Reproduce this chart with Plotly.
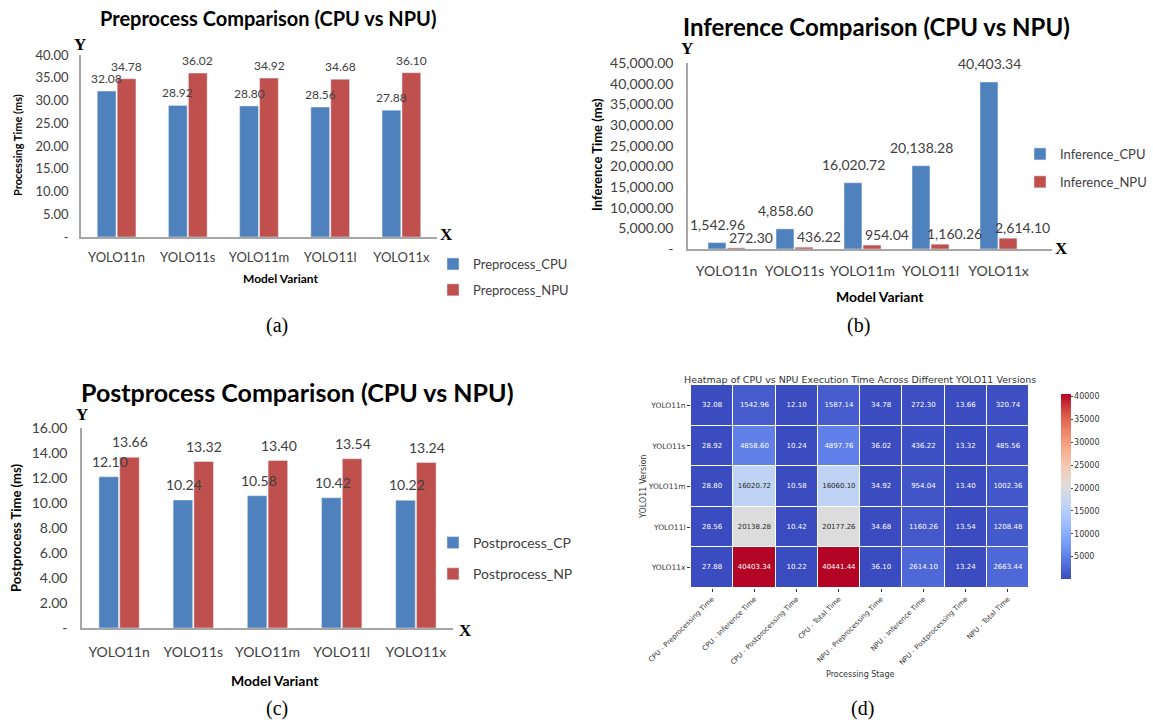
import plotly.graph_objects as go

W, H = 1153, 722

# ---------------- data ----------------
models = ["YOLO11n", "YOLO11s", "YOLO11m", "YOLO11l", "YOLO11x"]
pre_cpu = [32.08, 28.92, 28.80, 28.56, 27.88]
pre_npu = [34.78, 36.02, 34.92, 34.68, 36.10]
inf_cpu = [1542.96, 4858.60, 16020.72, 20138.28, 40403.34]
inf_npu = [272.30, 436.22, 954.04, 1160.26, 2614.10]
post_cpu = [12.10, 10.24, 10.58, 10.42, 10.22]
post_npu = [13.66, 13.32, 13.40, 13.54, 13.24]
cpu_total = [1587.14, 4897.76, 16060.10, 20177.26, 40441.44]
npu_total = [320.74, 485.56, 1002.36, 1208.48, 2663.44]
stages = ["CPU - Preprocessing Time", "CPU - Inference Time", "CPU - Postprocessing Time",
          "CPU - Total Time", "NPU - Preprocessing Time", "NPU - Inference Time",
          "NPU - Postprocessing Time", "NPU - Total Time"]

pre_ticks = [0, 5, 10, 15, 20, 25, 30, 35, 40]
inf_ticks = [0, 5000, 10000, 15000, 20000, 25000, 30000, 35000, 40000, 45000]
post_ticks = [0, 2, 4, 6, 8, 10, 12, 14, 16]
cbar_ticks = [5000, 10000, 15000, 20000, 25000, 30000, 35000, 40000]

heat_z = [[pre_cpu[i], inf_cpu[i], post_cpu[i], cpu_total[i],
           pre_npu[i], inf_npu[i], post_npu[i], npu_total[i]] for i in range(len(models))]

# ---------------- helpers ----------------
def X(px):
    return px / W

def Y(py):
    return 1 - py / H

CPU_C = "#4f81bd"
NPU_C = "#c0504d"
FONT = "Lato"
TXT = "#404040"
AX = "#a6a6a6"

coolwarm = [
    [0.0, "#3b4cc0"], [0.1, "#5977e3"], [0.2, "#7b9ff9"], [0.3, "#9ebeff"],
    [0.4, "#c0d4f5"], [0.5, "#dddcdc"], [0.6, "#f2cbb7"], [0.7, "#f7ac8e"],
    [0.8, "#ee8468"], [0.9, "#d65244"], [1.0, "#b40426"],
]

def hex2rgb(h):
    return [int(h[i:i + 2], 16) for i in (1, 3, 5)]

def scale_color(t):
    for (t0, c0), (t1, c1) in zip(coolwarm[:-1], coolwarm[1:]):
        if t0 <= t <= t1:
            f = (t - t0) / (t1 - t0)
            a, b = hex2rgb(c0), hex2rgb(c1)
            return [a[k] + f * (b[k] - a[k]) for k in range(3)]
    return hex2rgb(coolwarm[-1][1])

def luminance(rgb):
    out = []
    for c in rgb:
        c = c / 255
        out.append(c / 12.92 if c <= 0.03928 else ((c + 0.055) / 1.055) ** 2.4)
    return 0.2126 * out[0] + 0.7152 * out[1] + 0.0722 * out[2]

fig = go.Figure()

def bar(x, y, name, color, xa, ya, leg, grp):
    fig.add_trace(go.Bar(x=x, y=y, name=name, marker_color=color, xaxis=xa, yaxis=ya,
                         legend=leg, legendgroup=grp, hoverinfo="x+y"))

bar(models, pre_cpu, "Preprocess_CPU", CPU_C, "x", "y", "legend", "a1")
bar(models, pre_npu, "Preprocess_NPU", NPU_C, "x", "y", "legend", "a2")
bar(models, inf_cpu, "Inference_CPU", CPU_C, "x2", "y2", "legend2", "b1")
bar(models, inf_npu, "Inference_NPU", NPU_C, "x2", "y2", "legend2", "b2")
bar(models, post_cpu, "Postprocess_CP", CPU_C, "x3", "y3", "legend3", "c1")
bar(models, post_npu, "Postprocess_NP", NPU_C, "x3", "y3", "legend3", "c2")

# (d) heatmap
zmin = min(min(r) for r in heat_z)
zmax = max(max(r) for r in heat_z)
fig.add_trace(go.Heatmap(
    z=heat_z, x=stages, y=models, colorscale=coolwarm, zmin=zmin, zmax=zmax,
    xgap=1, ygap=1, xaxis="x4", yaxis="y4", showlegend=False,
    colorbar=dict(x=X(1051), xanchor="left", y=Y(487), yanchor="middle",
                  len=(590 - 385) / H, thickness=10, outlinewidth=0,
                  tickvals=cbar_ticks, tickformat="d", ticks="outside", ticklen=2,
                  tickfont=dict(size=8, family="DejaVu Sans", color="#333")),
))
# cell annotations (seaborn-style contrast colour)
tx, ty, tt, tc = [], [], [], []
for i, m in enumerate(models):
    for j, s in enumerate(stages):
        v = heat_z[i][j]
        tx.append(s)
        ty.append(m)
        tt.append(f"{v:.2f}")
        lum = luminance(scale_color((v - zmin) / (zmax - zmin)))
        tc.append("#262626" if lum > 0.408 else "white")
fig.add_trace(go.Scatter(x=tx, y=ty, text=tt, mode="text", xaxis="x4", yaxis="y4",
                         textfont=dict(size=7, family="DejaVu Sans", color=tc),
                         showlegend=False, hoverinfo="skip"))

def bar_x(dom, anchor, fs, standoff):
    return dict(domain=dom, anchor=anchor, showline=True, linecolor=AX, linewidth=1.5,
                showgrid=False, ticks="", tickfont=dict(size=fs, color=TXT, family=FONT),
                ticklabelstandoff=standoff, fixedrange=True, automargin=False)

def bar_y(dom, anchor, rng, vals, texts, fs, standoff):
    return dict(domain=dom, anchor=anchor, range=rng, showline=True, linecolor=AX, linewidth=1.5,
                showgrid=False, zeroline=False, ticks="", tickvals=vals, ticktext=texts,
                tickfont=dict(size=fs, color=TXT, family=FONT), ticklabelstandoff=standoff,
                fixedrange=True, automargin=False)

pre_tt = ["-"] + [f"{v:.2f}" for v in pre_ticks[1:]]
inf_tt = ["-"] + [f"{v:,.2f}" for v in inf_ticks[1:]]
post_tt = ["-"] + [f"{v:.2f}" for v in post_ticks[1:]]

fig.update_layout(
    width=W, height=H, autosize=False,
    margin=dict(l=0, r=0, t=0, b=0, pad=0, autoexpand=False),
    paper_bgcolor="white", plot_bgcolor="white",
    barmode="group", bargap=0.44, bargroupgap=0.06,
    xaxis=bar_x([X(81), X(437)], "y", 13, 8),
    yaxis=bar_y([Y(237), Y(55)], "x", [0, 40], pre_ticks, pre_tt, 13, 8),
    xaxis2=bar_x([X(688), X(1052)], "y2", 14, 8),
    yaxis2=bar_y([Y(249), Y(63)], "x2", [0, 45000], inf_ticks, inf_tt, 14, 10),
    xaxis3=bar_x([X(82), X(453)], "y3", 14, 10),
    yaxis3=bar_y([Y(628), Y(428)], "x3", [0, 16], post_ticks, post_tt, 14, 10),
    xaxis4=dict(domain=[X(691), X(1029)], anchor="y4", tickangle=-45, showgrid=False,
                ticks="outside", ticklen=3, tickcolor="#333", automargin=False,
                tickfont=dict(size=7, family="DejaVu Sans", color="#333"), fixedrange=True),
    yaxis4=dict(domain=[Y(588), Y(385)], anchor="x4", autorange="reversed", showgrid=False,
                ticks="outside", ticklen=3, tickcolor="#333", automargin=False,
                tickfont=dict(size=7.5, family="DejaVu Sans", color="#333"), fixedrange=True),
    legend=dict(x=X(433), y=Y(249), xanchor="left", yanchor="top",
                font=dict(size=13, color=TXT, family=FONT), tracegroupgap=6,
                bgcolor="rgba(0,0,0,0)"),
    legend2=dict(x=X(1020), y=Y(139), xanchor="left", yanchor="top",
                 font=dict(size=13, color=TXT, family=FONT), tracegroupgap=8,
                 bgcolor="rgba(0,0,0,0)"),
    legend3=dict(x=X(433), y=Y(527), xanchor="left", yanchor="top",
                 font=dict(size=14, color=TXT, family=FONT), tracegroupgap=10,
                 bgcolor="rgba(0,0,0,0)"),
)

ann = []

# value labels on bars (data coordinates)
def labels(cats, vals, fmt, xa, ya, xshift, yshift, size):
    for c, v in zip(cats, vals):
        ann.append(dict(text=fmt.format(v), x=c, y=v, xref=xa, yref=ya, showarrow=False,
                        xanchor="center", yanchor="bottom", xshift=xshift, yshift=yshift,
                        font=dict(size=size, color=TXT, family=FONT)))

labels(models, pre_cpu, "{:.2f}", "x", "y", -10, 3, 12)
labels(models, pre_npu, "{:.2f}", "x", "y", 10, 3, 12)
labels(models, inf_cpu, "{:,.2f}", "x2", "y2", -9, 8, 14)
labels(models, inf_npu, "{:,.2f}", "x2", "y2", 24, 0, 14)
labels(models, post_cpu, "{:.2f}", "x3", "y3", -9, 5, 14)
labels(models, post_npu, "{:.2f}", "x3", "y3", 11, 5, 14)

def A(text, x, y, size, family=FONT, bold=False, color="black", angle=0):
    t = f"<b>{text}</b>" if bold else text
    ann.append(dict(text=t, x=X(x), y=Y(y), xref="paper", yref="paper", showarrow=False,
                    xanchor="center", yanchor="middle", textangle=angle,
                    font=dict(size=size, family=family, color=color)))

# titles
A("Preprocess Comparison (CPU vs NPU)", 268, 18, 20, bold=True)
A("Inference Comparison (CPU vs NPU)", 876, 27, 24, bold=True)
A("Postprocess Comparison (CPU vs NPU)", 297, 392, 25, bold=True)
A("Heatmap of CPU vs NPU Execution Time Across Different YOLO11 Versions", 860, 379, 9.5,
  family="DejaVu Sans", color="#333")
# axis titles
A("Processing Time (ms)", 18, 145, 11, bold=True, angle=-90)
A("Model Variant", 281, 278, 12, bold=True)
A("Inference Time (ms)", 597, 155, 13, bold=True, angle=-90)
A("Model Variant", 880, 297, 14, bold=True)
A("Postprocess Time (ms)", 16, 528, 13, bold=True, angle=-90)
A("Model Variant", 275, 680, 14, bold=True)
A("Processing Stage", 860, 674, 8, family="DejaVu Sans", color="#333")
A("YOLO11 Version", 643, 487, 8, family="DejaVu Sans", color="#333", angle=-90)
# X / Y markers
SERIF = "Liberation Serif"
A("Y", 80, 45, 17, family=SERIF, bold=True)
A("X", 446, 234, 17, family=SERIF, bold=True)
A("Y", 687, 48, 17, family=SERIF, bold=True)
A("X", 1061, 248, 17, family=SERIF, bold=True)
A("Y", 82, 414, 17, family=SERIF, bold=True)
A("X", 465, 630, 17, family=SERIF, bold=True)
# panel labels
A("(a)", 277, 325, 20, family=SERIF)
A("(b)", 858, 325, 20, family=SERIF)
A("(c)", 277, 708, 20, family=SERIF)
A("(d)", 862, 708, 20, family=SERIF)

fig.update_layout(annotations=ann)
fig.write_html("out.html", config={"displayModeBar": False},
               post_script="document.body.style.margin='0';document.body.style.padding='0';")
